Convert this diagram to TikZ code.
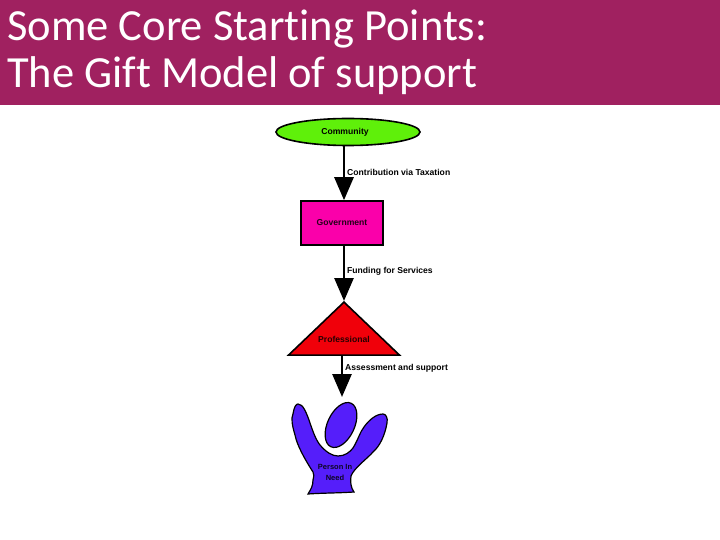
\documentclass[tikz,border=0pt]{standalone}
\usepackage{fontspec}
\setmainfont[Ligatures=NoCommon]{Carlito}
\newfontfamily\labelfont{Liberation Sans}
\usetikzlibrary{shapes.geometric, arrows.meta, positioning}
\definecolor{bandcol}{RGB}{160,33,96}
\definecolor{greencol}{RGB}{95,240,10}
\definecolor{magentacol}{RGB}{250,0,170}
\definecolor{redcol}{RGB}{240,0,10}
\definecolor{purplecol}{RGB}{85,30,250}

\begin{document}
\begin{tikzpicture}[
    x=1pt, y=-1pt,
    shape box/.style={
        draw=black, line width=1.6pt,
        inner sep=0pt
    },
    tag/.style={
        font=\labelfont\bfseries\fontsize{8.6}{10}\selectfont,
        inner sep=0pt, anchor=west, align=center
    },
    arrow/.style={
        -{Triangle[width=19pt,length=23pt]},
        line width=2.8pt
    }
]
\useasboundingbox (0,0) rectangle (720,540);

% Title
\fill[bandcol] (0,0) rectangle (720,105);
\node[anchor=north west, inner sep=0pt, text=white, align=left,
      font=\fontsize{44.5}{47}\selectfont] (title) at (7,10) {%
Some Core Starting Points:\\
The Gift Model of support};

% Nodes
\node[shape box, ellipse, fill=greencol, minimum width=144pt, minimum height=27pt] (community) at (348,132) {};
\node[tag, anchor=center] (communitytext) at (345,132) {Community};

\node[shape box, rectangle, fill=magentacol, minimum width=82pt, minimum height=44pt] (government) at (342,223) {};
\node[tag, anchor=center, text=black!85!magentacol] (governmenttext) at (342,223) {Government};

\node[shape box, isosceles triangle, isosceles triangle apex angle=92.6,
      shape border rotate=90, isosceles triangle stretches,
      fill=redcol, minimum width=111pt, minimum height=53pt, anchor=apex] (professional) at (344,301) {};
\node[tag, anchor=center, text=black!85!redcol] (professionaltext) at (344,339) {Professional};

% Person
\path[shape box, fill=purplecol, line width=1.2pt] (308,494)
    .. controls (311,489) and (313,486) .. (313,480)
    .. controls (314,476) and (314,474) .. (313,472)
    .. controls (304,458) and (297,445) .. (295,435)
    .. controls (292,425) and (291,418) .. (293,414)
    .. controls (294,407) and (296,404) .. (298,404)
    .. controls (303,404) and (306,412) .. (309,420)
    .. controls (313,432) and (316,440) .. (320,445)
    .. controls (326,452) and (332,456) .. (338,456)
    .. controls (345,456) and (350,452) .. (353,448)
    .. controls (358,440) and (360,432) .. (364,427)
    .. controls (369,420) and (376,414) .. (383,414)
    .. controls (386,414) and (388,418) .. (387,423)
    .. controls (385,435) and (380,446) .. (373,452)
    .. controls (368,458) and (354,468) .. (351,476)
    .. controls (350,482) and (351,488) .. (354,492)
    .. controls (340,493) and (322,493) .. (308,494) -- cycle;
\node[shape box, ellipse, rotate=-25, fill=purplecol, line width=1.2pt,
      minimum width=27pt, minimum height=48pt] (head) at (341,425) {};
\node[tag, anchor=center, text=black!85!purplecol, font=\labelfont\bfseries\fontsize{7.5}{11}\selectfont] (person) at (335,472) {Person In\\Need};

% Arrows
\coordinate (headtop) at (342,397);
\draw[arrow] ([xshift=-4pt]community.south) -- ([xshift=2pt]government.north);
\draw[arrow] ([xshift=2pt]government.south) -- (professional.apex);
\draw[arrow] ([xshift=-2pt]professional.south) -- (headtop);

% Labels
\node[tag] (tax) at (347,172) {Contribution via Taxation};
\node[tag] (funding) at (347,271) {Funding for Services};
\node[tag] (assess) at (345,368) {Assessment and support};

\end{tikzpicture}
\end{document}
